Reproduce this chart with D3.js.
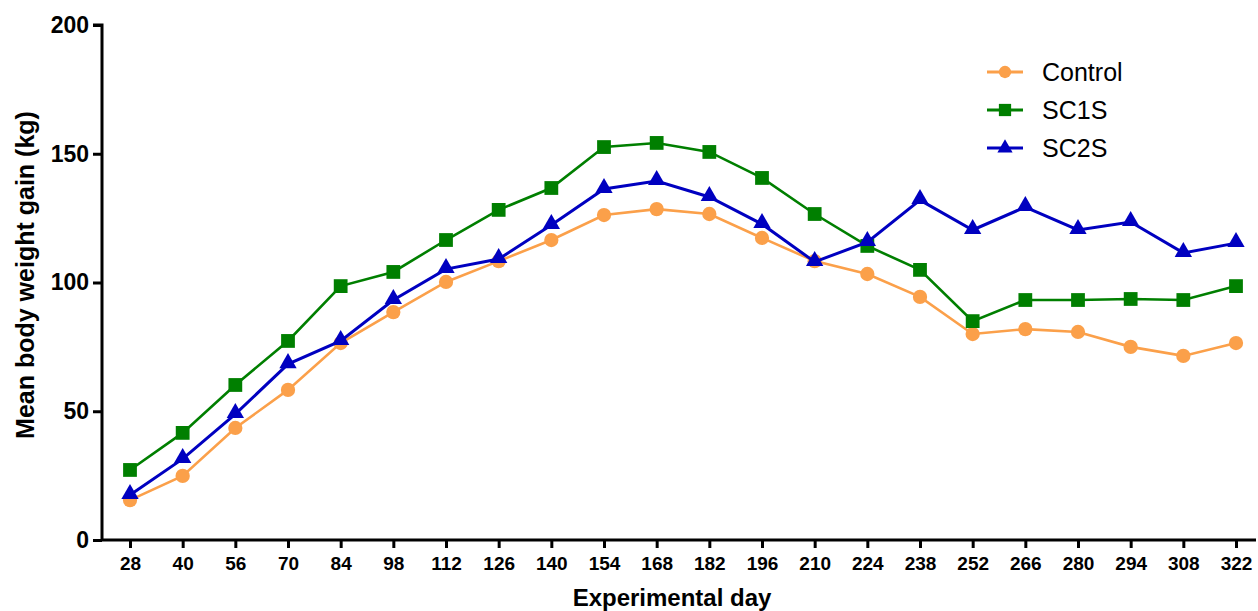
<!DOCTYPE html>
<html><head><meta charset="utf-8">
<script src="https://cdn.jsdelivr.net/npm/d3@7/dist/d3.min.js"></script>
<style>body{margin:0;background:#fff}svg{display:block}</style>
</head><body>
<svg id="c" width="1258" height="611"></svg>
<script>
const days = ["28","40","56","70","84","98","112","126","140","154","168","182","196","210","224","238","252","266","280","294","308","322"];
const control = [15.5,24.9,43.5,58.3,76.5,88.5,100.2,108.3,116.5,126.2,128.5,126.6,117.3,108.3,103.3,94.4,80.0,81.9,80.8,75.0,71.5,76.5];
const sc1s = [27.2,41.6,60.2,77.3,98.6,104.1,116.5,128.2,136.7,152.6,154.2,150.7,140.6,126.6,114.2,104.9,85.0,93.2,93.2,93.6,93.2,98.6];
const sc2s = [17.5,31.5,48.9,68.3,77.3,93.2,105.2,109.1,122.3,136.3,139.4,133.2,122.7,108.0,115.7,132.0,120.4,129.3,120.4,123.5,111.5,115.3];
const yTicks = [0,50,100,150,200];
const seriesNames = ["Control","SC1S","SC2S"];

const svg = d3.select("#c");
const font = "'Liberation Sans', Arial, sans-serif";
const x = d3.scalePoint().domain(days).range([130,1236]);
const y = d3.scaleLinear().domain([0,200]).range([540,25]);

const series = [
  {name:seriesNames[0], values:control, color:"#FBA04A", shape:"circle"},
  {name:seriesNames[1], values:sc1s, color:"#007F00", shape:"square"},
  {name:seriesNames[2], values:sc2s, color:"#0000C0", shape:"triangle"}
];

// axes
const xAxis = svg.append("g").attr("transform","translate(0,540)")
  .call(d3.axisBottom(x).tickSize(8).tickPadding(9));
xAxis.select(".domain").attr("d","M102,0H1256").attr("stroke","#000").attr("stroke-width",3);
xAxis.selectAll(".tick line").attr("stroke","#000").attr("stroke-width",3);
xAxis.selectAll(".tick text").attr("font-family",font).attr("font-weight","bold").attr("font-size","19px").attr("fill","#000");

const yAxis = svg.append("g").attr("transform","translate(102,0)")
  .call(d3.axisLeft(y).tickValues(yTicks).tickSize(9).tickPadding(4));
yAxis.select(".domain").attr("d","M-9,25H0V541").attr("stroke","#000").attr("stroke-width",3);
yAxis.selectAll(".tick line").attr("stroke","#000").attr("stroke-width",3);
yAxis.selectAll(".tick text").attr("font-family",font).attr("font-weight","bold").attr("font-size","23px").attr("fill","#000");

svg.append("text").attr("x",672).attr("y",606).attr("text-anchor","middle")
  .attr("font-family",font).attr("font-weight","bold").attr("font-size","24px").text("Experimental day");
svg.append("text").attr("transform","translate(34,275) rotate(-90)").attr("text-anchor","middle")
  .attr("font-family",font).attr("font-weight","bold").attr("font-size","25px").text("Mean body weight gain (kg)");

const sym = {
  circle: d3.symbol().type(d3.symbolCircle).size(160),
  square: d3.symbol().type(d3.symbolSquare).size(190),
  triangle: d3.symbol().type(d3.symbolTriangle).size(130)
};

const line = d3.line().x((d,i)=>x(days[i])).y(d=>y(d));
series.forEach(s=>{
  svg.append("path").datum(s.values).attr("d",line).attr("fill","none")
    .attr("stroke",s.color).attr("stroke-width",s.shape==="triangle"?3:2.6);
  svg.append("g").selectAll("path").data(s.values).join("path")
    .attr("transform",(d,i)=>`translate(${x(days[i])},${y(d)+(s.shape==="triangle"?-1:0)})`)
    .attr("d",sym[s.shape]).attr("fill",s.color);
});

// legend
const legSym = {
  circle: d3.symbol().type(d3.symbolCircle).size(120),
  square: d3.symbol().type(d3.symbolSquare).size(150),
  triangle: d3.symbol().type(d3.symbolTriangle).size(100)
};
const leg = svg.append("g");
series.forEach((s,i)=>{
  const ly = 72 + i*38;
  leg.append("line").attr("x1",987).attr("x2",1023).attr("y1",ly).attr("y2",ly)
    .attr("stroke",s.color).attr("stroke-width",3);
  leg.append("path").attr("transform",`translate(1005,${ly})`).attr("d",legSym[s.shape]).attr("fill",s.color);
  leg.append("text").attr("x",1042).attr("y",ly+9).attr("font-family",font).attr("font-size","25px")
    .attr("fill","#000").text(s.name);
});
</script>
</body></html>
